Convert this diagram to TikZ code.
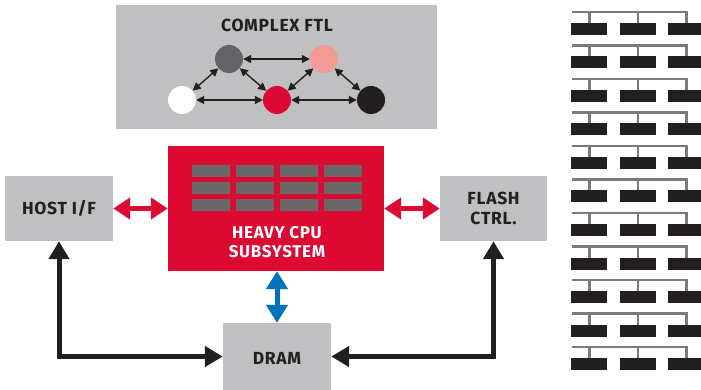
\documentclass[tikz,border=0pt]{standalone}
\usepackage{fontspec}
\setmainfont{Fira Sans}[LetterSpace=4]
\usetikzlibrary{arrows.meta}
\definecolor{boxgray}{HTML}{C0BFC1}
\definecolor{cpured}{HTML}{DC0A33}
\definecolor{bargray}{HTML}{6A676A}
\definecolor{cgray}{HTML}{656366}
\definecolor{cpink}{HTML}{F29A94}
\definecolor{cblack}{HTML}{231F20}
\definecolor{cblue}{HTML}{0072BC}
\definecolor{busgray}{HTML}{7A7A7A}
\tikzset{
  lbl/.style={font=\bfseries\fontsize{17.5}{20}\selectfont, text=cblack, align=center},
  circ/.style={circle, minimum size=28pt, inner sep=0pt, draw=none},
  ftlarrow/.style={draw=cblack, line width=1.4pt, {Triangle[width=8pt,length=8pt]}-{Triangle[width=8pt,length=8pt]}},
  redarrow/.style={draw=cpured, line width=5pt, {Triangle[width=21pt,length=17pt]}-{Triangle[width=21pt,length=17pt]}},
  bluearrow/.style={draw=cblue, line width=5pt, {Triangle[width=21pt,length=18pt]}-{Triangle[width=21pt,length=18pt]}},
  blackarrow/.style={draw=cblack, line width=5pt, {Triangle[width=20pt,length=18pt]}-{Triangle[width=20pt,length=18pt]}},
  cpubar/.style={fill=bargray, draw=none},
  chip/.style={fill=cblack, draw=none},
  bus/.style={draw=busgray, line width=2.5pt}
}
\begin{document}
\begin{tikzpicture}[x=1pt,y=-1pt]
\useasboundingbox (0,0) rectangle (701,390);
% Complex FTL
\fill[boxgray] (116,5) rectangle (437,129);
\node[lbl] (ftltitle) at (277,25) {COMPLEX FTL};
\node[circ, fill=cgray] (cg) at (229,59) {};
\node[circ, fill=cpink] (cp) at (324,59) {};
\node[circ, fill=white] (cw) at (182,100) {};
\node[circ, fill=cpured] (cr) at (277,100) {};
\node[circ, fill=cblack] (ck) at (371,100) {};
\draw[ftlarrow] (cg) -- (cp);
\draw[ftlarrow] (cg) -- (cw);
\draw[ftlarrow] (cg) -- (cr);
\draw[ftlarrow] (cp) -- (cr);
\draw[ftlarrow] (cp) -- (ck);
\draw[ftlarrow] (cw) -- (cr);
\draw[ftlarrow] (cr) -- (ck);
% CPU
\node[fill=cpured, minimum width=216pt, minimum height=125pt, inner sep=0pt] (cpu) at (276,208.5) {};
\foreach \r in {0,1,2}{
  \foreach \c in {0,1,2,3}{
    \fill[cpubar] ({192+44*\c},{165+17*\r}) rectangle ++(38,12);
  }
}
\node[lbl, text=white, font=\bfseries\fontsize{17}{19}\selectfont] (cputxt) at (277,242) {HEAVY CPU\\SUBSYSTEM};
% Host, Flash, DRAM
\node[fill=boxgray, minimum width=108pt, minimum height=65pt, inner sep=0pt] (host) at (59,208.5) {};
\node[lbl] at (host.center) {HOST I/F};
\node[fill=boxgray, minimum width=107pt, minimum height=65pt, inner sep=0pt] (flash) at (493.5,208.5) {};
\node[lbl] at (flash.center) {FLASH\\CTRL.};
\node[fill=boxgray, minimum width=108pt, minimum height=67pt, inner sep=0pt] (dram) at (277,356.5) {};
\node[lbl] at (277,358) {DRAM};
% connectors
\draw[redarrow] (host.east) -- (cpu.west);
\draw[redarrow] (cpu.east) -- (flash.west);
\draw[bluearrow] (cpu.south -| dram.north) -- (dram.north);
\draw[blackarrow] (host.south) |- (dram.west);
\draw[blackarrow] (flash.south) |- (dram.east);
% Flash array
\foreach \k in {0,...,10}{
  \pgfmathsetmacro{\yb}{12+33.5*\k}
  \draw[bus] (572,\yb) -- (686.5,\yb) -- (686.5,\yb+11);
  \draw[bus] (589.5,\yb) -- (589.5,\yb+11);
  \draw[bus] (638,\yb) -- (638,\yb+11);
  \fill[chip] (571,\yb+11) rectangle (607,\yb+23);
  \fill[chip] (620,\yb+11) rectangle (656,\yb+23);
  \fill[chip] (668,\yb+11) rectangle (701,\yb+23);
}
\end{tikzpicture}
\end{document}
